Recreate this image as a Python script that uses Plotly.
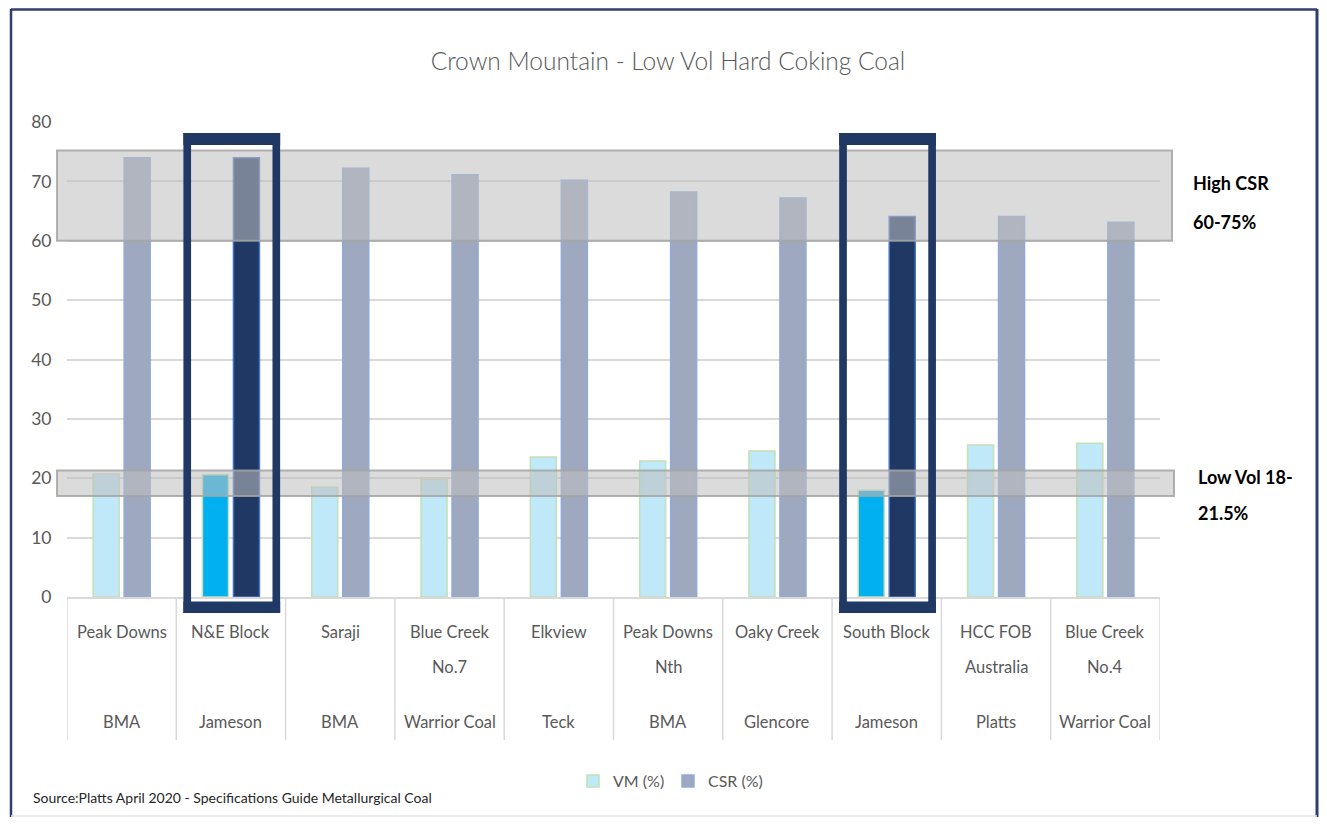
import plotly.graph_objects as go

# ---- data ----
mines = ["Peak Downs", "N&E Block", "Saraji", "Blue Creek\nNo.7", "Elkview",
         "Peak Downs\nNth", "Oaky Creek", "South Block", "HCC FOB\nAustralia", "Blue Creek\nNo.4"]
companies = ["BMA", "Jameson", "BMA", "Warrior Coal", "Teck",
             "BMA", "Glencore", "Jameson", "Platts", "Warrior Coal"]
vm_values = [20.7, 20.6, 18.5, 19.8, 23.6, 22.9, 24.6, 18.0, 25.6, 25.9]
csr_values = [74.0, 74.0, 72.2, 71.1, 70.2, 68.2, 67.2, 64.1, 64.1, 63.1]
highlighted = ["N&E Block", "South Block"]
high_csr_band = [60, 75.2]
low_vol_band = [17.0, 21.3]

FONT = "Lato, Open Sans, sans-serif"
GRAY_TXT = "#595959"

cats = [m.replace("\n", " ") + " | " + c for m, c in zip(mines, companies)]
is_hi = [m.replace("\n", " ") in highlighted for m in mines]

vm_colors = ["#00B0F0" if h else "#BFE8F8" for h in is_hi]
csr_colors = ["#203864" if h else "#9EA9BF" for h in is_hi]
csr_lines = ["#4472C4" if h else "#8FAADC" for h in is_hi]

fig = go.Figure()
fig.add_trace(go.Bar(
    x=cats, y=vm_values, name="VM (%)",
    marker=dict(color=vm_colors, line=dict(color="#C5E0B4", width=1.5)),
))
fig.add_trace(go.Bar(
    x=cats, y=csr_values, name="CSR (%)",
    marker=dict(color=csr_colors, line=dict(color=csr_lines, width=1.5)),
))

# page body has an 8px default margin -> work in screen pixels, offset by 8
OFF = 8
W, H = 1327 - 2 * OFF, 825 - 2 * OFF
PL, PR, PT, PB = 67, 1160, 122, 597          # plot area in screen pixels
L, R, T, B = PL - OFF, W - (PR - OFF), PT - OFF, H - (PB - OFF)
pw, ph = PR - PL, PB - PT


def px_x(p):
    return (p - PL) / pw


def px_y(p):
    return (PB - p) / ph


shapes = []
annotations = []

# category dividers in label area
for i in range(len(cats) + 1):
    shapes.append(dict(type="line", xref="x", yref="paper",
                       x0=i - 0.5, x1=i - 0.5, y0=0, y1=px_y(740),
                       line=dict(color="#D9D9D9", width=1.5), layer="below"))

# category labels (two rows)
for i, (m, c) in enumerate(zip(mines, companies)):
    lines = m.split("\n")
    for j, ln in enumerate(lines):
        annotations.append(dict(x=i, xref="x", y=px_y(632 + 35 * j), yref="paper",
                                text=ln, showarrow=False, yanchor="middle",
                                font=dict(family=FONT, size=16.5, color=GRAY_TXT)))
    annotations.append(dict(x=i, xref="x", y=px_y(722), yref="paper",
                            text=c, showarrow=False, yanchor="middle",
                            font=dict(family=FONT, size=16.5, color=GRAY_TXT)))

# translucent grey bands
shapes.append(dict(type="rect", xref="paper", yref="y",
                   x0=px_x(57), x1=px_x(1172), y0=high_csr_band[0], y1=high_csr_band[1],
                   fillcolor="rgba(190,190,190,0.56)",
                   line=dict(color="rgba(165,165,165,0.85)", width=2), layer="above"))
shapes.append(dict(type="rect", xref="paper", yref="y",
                   x0=px_x(57), x1=px_x(1174), y0=low_vol_band[0], y1=low_vol_band[1],
                   fillcolor="rgba(190,190,190,0.56)",
                   line=dict(color="rgba(165,165,165,0.85)", width=2), layer="above"))

# highlight boxes around selected mines
NAVY = "#203864"
for i, h in enumerate(is_hi):
    if not h:
        continue
    xl0, xl1 = i - 0.435, i - 0.365
    xr0, xr1 = i + 0.38, i + 0.45
    yt0, yt1 = px_y(145), px_y(133)
    yb0, yb1 = px_y(613), px_y(601.5)
    for (a, b, c0, d) in [(xl0, xl1, yb0, yt1), (xr0, xr1, yb0, yt1),
                          (xl0, xr1, yt0, yt1), (xl0, xr1, yb0, yb1)]:
        shapes.append(dict(type="rect", xref="x", yref="paper", x0=a, x1=b, y0=c0, y1=d,
                           fillcolor=NAVY, line=dict(width=0), layer="above"))

# outer frame
FRAME = "#2E3F6E"
shapes.append(dict(type="line", xref="paper", yref="paper", x0=px_x(11), x1=px_x(11),
                   y0=px_y(830), y1=px_y(9), line=dict(color=FRAME, width=2.5)))
shapes.append(dict(type="line", xref="paper", yref="paper", x0=px_x(11), x1=px_x(1317),
                   y0=px_y(9.5), y1=px_y(9.5), line=dict(color=FRAME, width=2.5)))
shapes.append(dict(type="line", xref="paper", yref="paper", x0=px_x(1317), x1=px_x(1317),
                   y0=px_y(830), y1=px_y(9), line=dict(color=FRAME, width=3)))
shapes.append(dict(type="line", xref="paper", yref="paper", x0=px_x(11), x1=px_x(1317),
                   y0=px_y(816), y1=px_y(816), line=dict(color="#E3E3E3", width=1.5)))

# right-hand band labels
for txt, yy in [("High CSR", 183), ("60-75%", 222), ("Low Vol 18-", 477), ("21.5%", 513)]:
    xx = 1191 if yy < 300 else 1196
    annotations.append(dict(x=px_x(xx), xref="paper", y=px_y(yy), yref="paper",
                            text="<b>" + txt + "</b>", showarrow=False,
                            xanchor="left", yanchor="middle",
                            font=dict(family=FONT, size=18, color="#000000")))

# source note
annotations.append(dict(x=px_x(31), xref="paper", y=px_y(797), yref="paper",
                        text="Source:Platts April 2020 - Specifications Guide Metallurgical Coal",
                        showarrow=False, xanchor="left", yanchor="middle",
                        font=dict(family=FONT, size=14, color="#262626")))

fig.update_layout(
    width=W, height=H, autosize=False,
    margin=dict(l=L, r=R, t=T, b=B),
    paper_bgcolor="white", plot_bgcolor="white",
    barmode="group", bargap=0.433, bargroupgap=0.16,
    title=dict(text="Crown Mountain - Low Vol Hard Coking Coal",
               xref="container", x=(668 - OFF) / W, xanchor="center",
               yref="container", y=1 - (61 - OFF) / H, yanchor="middle",
               font=dict(family=FONT, size=24.5, color=GRAY_TXT, weight=300)),
    xaxis=dict(type="category", showticklabels=False, showgrid=False,
               showline=True, linecolor="#D9D9D9", linewidth=2, ticks="",
               range=[-0.5, len(cats) - 0.5], fixedrange=True),
    yaxis=dict(range=[0, 80], dtick=10, showgrid=True, gridcolor="#D9D9D9", gridwidth=2,
               zeroline=False, showline=False, ticks="outside", ticklen=11,
               tickcolor="rgba(0,0,0,0)",
               tickfont=dict(family=FONT, size=17.5, color=GRAY_TXT), fixedrange=True),
    legend=dict(orientation="h", x=px_x(668), xanchor="center", y=px_y(781), yanchor="middle",
                font=dict(family=FONT, size=16, color=GRAY_TXT),
                bgcolor="rgba(0,0,0,0)", itemwidth=30, entrywidth=50, traceorder="normal"),
    shapes=shapes, annotations=annotations,
    showlegend=True,
)

fig.write_html("out.html")
